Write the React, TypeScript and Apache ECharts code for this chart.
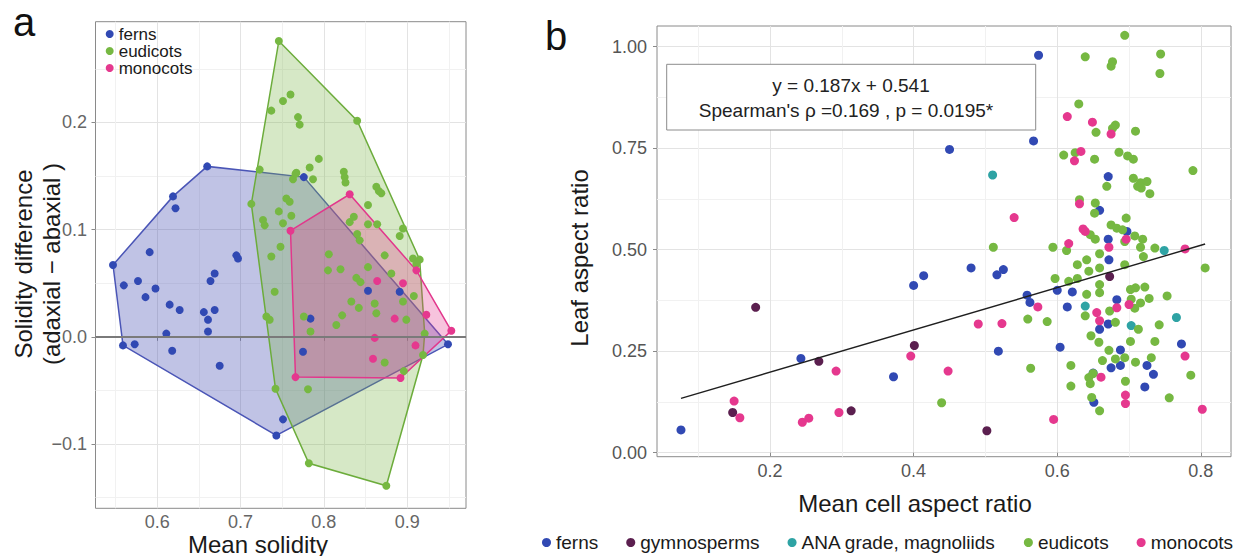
import React, { useEffect, useRef } from 'react';
import * as echarts from 'echarts';

const FONT = '"Liberation Sans", Arial, Helvetica, sans-serif';

// ---------------- Panel a: mean solidity vs solidity difference ----------------
const A_X_TICKS = [0.6, 0.7, 0.8, 0.9];
const A_Y_TICKS = [-0.1, 0.0, 0.1, 0.2];

const aFerns: number[][] = [
  [0.660, 0.159], [0.776, 0.149], [0.619, 0.131], [0.622, 0.120], [0.591, 0.079], [0.547, 0.067],
  [0.695, 0.076], [0.697, 0.073], [0.669, 0.059], [0.664, 0.052], [0.560, 0.048], [0.577, 0.052],
  [0.598, 0.045], [0.586, 0.037], [0.615, 0.030], [0.627, 0.025], [0.656, 0.023], [0.669, 0.025],
  [0.661, 0.016], [0.661, 0.005], [0.611, 0.003], [0.559, -0.008], [0.573, -0.007], [0.618, -0.013],
  [0.675, -0.027], [0.853, 0.043], [0.891, 0.042], [0.784, 0.017], [0.775, -0.014], [0.949, -0.007],
  [0.751, -0.077], [0.743, -0.092],
];

const aEudicots: number[][] = [
  [0.746, 0.276], [0.737, 0.211], [0.751, 0.220], [0.760, 0.226], [0.769, 0.205], [0.771, 0.198],
  [0.840, 0.2016], [0.794, 0.166], [0.783, 0.158], [0.767, 0.153], [0.763, 0.147], [0.766, 0.152],
  [0.787, 0.147], [0.723, 0.156], [0.824, 0.154], [0.825, 0.149], [0.826, 0.144], [0.863, 0.140],
  [0.866, 0.136], [0.869, 0.134], [0.713, 0.124], [0.755, 0.129], [0.759, 0.126], [0.746, 0.117],
  [0.761, 0.113], [0.751, 0.106], [0.727, 0.109], [0.729, 0.104], [0.853, 0.123], [0.836, 0.112],
  [0.831, 0.107], [0.853, 0.105], [0.864, 0.105], [0.840, 0.096], [0.843, 0.090], [0.895, 0.101],
  [0.891, 0.094], [0.748, 0.084], [0.737, 0.075], [0.806, 0.077], [0.805, 0.062], [0.820, 0.063],
  [0.873, 0.076], [0.907, 0.073], [0.915, 0.072], [0.911, 0.068], [0.853, 0.065], [0.881, 0.059],
  [0.839, 0.055], [0.844, 0.051], [0.741, 0.042], [0.908, 0.038], [0.895, 0.033], [0.833, 0.033],
  [0.842, 0.027], [0.861, 0.031], [0.863, 0.022], [0.731, 0.019], [0.735, 0.016], [0.776, 0.019],
  [0.822, 0.020], [0.815, 0.011], [0.899, 0.016], [0.784, 0.005], [0.921, 0.003], [0.919, -0.017],
  [0.873, -0.024], [0.896, -0.032], [0.742, -0.0485], [0.781, -0.049], [0.782, -0.118], [0.875, -0.139],
];

const aMonocots: number[][] = [
  [0.831, 0.133], [0.760, 0.099], [0.864, 0.052], [0.895, 0.050], [0.885, 0.017], [0.923, 0.0205],
  [0.953, 0.0056], [0.861, -0.001], [0.910, -0.008], [0.859, -0.0205], [0.766, -0.0376],
  [0.892, -0.0385], [0.911, 0.062],
];

// ---------------- Panel b: mean cell aspect ratio vs leaf aspect ratio ----------------
const B_X_TICKS = [0.2, 0.4, 0.6, 0.8];
const B_Y_TICKS = [0.0, 0.25, 0.5, 0.75, 1.0];

const bFerns: number[][] = [
  [0.076, 0.056], [0.243, 0.232], [0.372, 0.187], [0.400, 0.412], [0.414, 0.436], [0.450, 0.747],
  [0.480, 0.455], [0.516, 0.438], [0.525, 0.451], [0.518, 0.250], [0.558, 0.388], [0.562, 0.370],
  [0.567, 0.768], [0.574, 0.979], [0.600, 0.400], [0.604, 0.260], [0.621, 0.396], [0.614, 0.359],
  [0.659, 0.597], [0.671, 0.680], [0.671, 0.526], [0.697, 0.545], [0.672, 0.475], [0.683, 0.377],
  [0.659, 0.304], [0.671, 0.317], [0.688, 0.253], [0.675, 0.209], [0.688, 0.215], [0.725, 0.215],
  [0.734, 0.193], [0.722, 0.162], [0.773, 0.268], [0.650, 0.196], [0.651, 0.124],
];

const bGymnosperms: number[][] = [
  [0.148, 0.099], [0.180, 0.358], [0.268, 0.225], [0.313, 0.103], [0.401, 0.264], [0.502, 0.054],
  [0.673, 0.434],
];

const bAna: number[][] = [
  [0.510, 0.684], [0.639, 0.361], [0.703, 0.313], [0.749, 0.498], [0.766, 0.333],
];

const bEudicots: number[][] = [
  [0.694, 1.028], [0.639, 0.975], [0.677, 0.963], [0.675, 0.952], [0.744, 0.982], [0.743, 0.934],
  [0.630, 0.859], [0.654, 0.789], [0.681, 0.807], [0.677, 0.799], [0.709, 0.792], [0.609, 0.733],
  [0.625, 0.739], [0.652, 0.723], [0.686, 0.740], [0.698, 0.731], [0.706, 0.723], [0.789, 0.695],
  [0.706, 0.676], [0.716, 0.665], [0.725, 0.668], [0.717, 0.652], [0.729, 0.638], [0.712, 0.656],
  [0.669, 0.656], [0.631, 0.623], [0.653, 0.615], [0.652, 0.590], [0.696, 0.578], [0.675, 0.561],
  [0.683, 0.553], [0.691, 0.549], [0.646, 0.537], [0.653, 0.526], [0.708, 0.534], [0.719, 0.526],
  [0.694, 0.520], [0.594, 0.506], [0.511, 0.506], [0.716, 0.506], [0.736, 0.504], [0.613, 0.498],
  [0.659, 0.490], [0.720, 0.483], [0.641, 0.475], [0.628, 0.463], [0.806, 0.455], [0.694, 0.463],
  [0.659, 0.455], [0.644, 0.447], [0.597, 0.429], [0.616, 0.422], [0.628, 0.429], [0.659, 0.414],
  [0.659, 0.394], [0.641, 0.390], [0.639, 0.337], [0.673, 0.349], [0.702, 0.402], [0.709, 0.406],
  [0.722, 0.408], [0.703, 0.378], [0.716, 0.369], [0.728, 0.380], [0.708, 0.356], [0.753, 0.386],
  [0.559, 0.329], [0.586, 0.323], [0.681, 0.321], [0.713, 0.304], [0.742, 0.315], [0.647, 0.288],
  [0.658, 0.272], [0.702, 0.274], [0.736, 0.274], [0.672, 0.252], [0.663, 0.227], [0.681, 0.231],
  [0.694, 0.234], [0.709, 0.223], [0.731, 0.234], [0.619, 0.215], [0.563, 0.208], [0.650, 0.195],
  [0.644, 0.185], [0.646, 0.170], [0.695, 0.176], [0.619, 0.164], [0.786, 0.191], [0.648, 0.136],
  [0.659, 0.103], [0.756, 0.135], [0.439, 0.123],
];

const bMonocots: number[][] = [
  [0.150, 0.127], [0.158, 0.086], [0.245, 0.075], [0.254, 0.085], [0.292, 0.201], [0.296, 0.099],
  [0.396, 0.238], [0.448, 0.201], [0.490, 0.317], [0.523, 0.318], [0.540, 0.579], [0.573, 0.359],
  [0.595, 0.082], [0.614, 0.828], [0.649, 0.814], [0.675, 0.785], [0.633, 0.742], [0.624, 0.719],
  [0.631, 0.613], [0.636, 0.551], [0.639, 0.545], [0.696, 0.526], [0.616, 0.515], [0.672, 0.506],
  [0.778, 0.502], [0.655, 0.345], [0.683, 0.357], [0.700, 0.365], [0.659, 0.325], [0.778, 0.238],
  [0.661, 0.186], [0.695, 0.142], [0.695, 0.121], [0.802, 0.107],
];

// fitted line as drawn in the figure (slope / intercept)
const FIT_SLOPE = 0.521;
const FIT_INTERCEPT = 0.094;
const FIT_TEXT_1 = 'y = 0.187x + 0.541';
const FIT_TEXT_2 = "Spearman's ρ =0.169 , p = 0.0195*";

const LEGEND_A = ['ferns', 'eudicots', 'monocots'];
const LEGEND_B = ['ferns', 'gymnosperms', 'ANA grade, magnoliids', 'eudicots', 'monocots'];

const COLORS: Record<string, string> = {
  ferns: '#3149b3',
  gymnosperms: '#5b1f4f',
  'ANA grade, magnoliids': '#2ea3a4',
  eudicots: '#76b842',
  monocots: '#e5388e',
};
const HULL_STROKE: Record<string, string> = {
  ferns: '#4a55b6',
  eudicots: '#6cac3b',
  monocots: '#e2378c',
};
const HULL_FILL: Record<string, string> = {
  ferns: 'rgba(70, 80, 178, 0.34)',
  eudicots: 'rgba(118, 178, 66, 0.30)',
  monocots: 'rgba(229, 56, 142, 0.30)',
};

function convexHull(points: number[][]): number[][] {
  const p = points.slice().sort((a, b) => a[0] - b[0] || a[1] - b[1]);
  const cross = (o: number[], a: number[], b: number[]) =>
    (a[0] - o[0]) * (b[1] - o[1]) - (a[1] - o[1]) * (b[0] - o[0]);
  const lower: number[][] = [];
  for (const pt of p) {
    while (lower.length >= 2 && cross(lower[lower.length - 2], lower[lower.length - 1], pt) <= 0) lower.pop();
    lower.push(pt);
  }
  const upper: number[][] = [];
  for (let i = p.length - 1; i >= 0; i--) {
    const pt = p[i];
    while (upper.length >= 2 && cross(upper[upper.length - 2], upper[upper.length - 1], pt) <= 0) upper.pop();
    upper.push(pt);
  }
  upper.pop();
  lower.pop();
  return lower.concat(upper);
}

const isMultiple = (v: number, step: number) => Math.abs(v / step - Math.round(v / step)) < 1e-6;
const fmt = (v: number, d: number) => (Math.abs(v) < 1e-9 ? 0 : v).toFixed(d).replace('-', '\u2212');

function makeAxis(
  gridIndex: number, min: number, max: number, step: number, ticks: number[], decimals: number,
  labelMargin: number, labelColor: string,
) {
  return {
    type: 'value',
    gridIndex,
    min,
    max,
    minInterval: step,
    maxInterval: step,
    axisLine: { show: false },
    axisTick: { show: true, length: 4, inside: false, lineStyle: { color: '#8a8a8a', width: 1 }, customValues: ticks },
    axisLabel: {
      show: true,
      customValues: ticks,
      margin: labelMargin,
      color: labelColor,
      fontSize: 18,
      fontFamily: FONT,
      showMinLabel: true,
      showMaxLabel: true,
      formatter: (v: number) => (isMultiple(v, step) ? fmt(v, decimals) : ''),
    },
    splitLine: { show: true, lineStyle: { color: '#e3e3e3', width: 1 } },
    minorTick: { show: false, splitNumber: 2 },
    minorSplitLine: { show: true, lineStyle: { color: '#f1f1f1', width: 1 } },
  };
}

function hullSeries(name: string, pts: number[][]) {
  const hull = convexHull(pts);
  return {
    type: 'custom',
    name: name + ' hull',
    coordinateSystem: 'cartesian2d',
    xAxisIndex: 0,
    yAxisIndex: 0,
    silent: true,
    z: 1,
    data: [pts[0]],
    encode: { x: 0, y: 1 },
    renderItem: (_params: any, api: any) => ({
      type: 'polygon',
      shape: { points: hull.map((p) => api.coord(p)) },
      style: { fill: HULL_FILL[name], stroke: HULL_STROKE[name], lineWidth: 1.5 },
    }),
  };
}

function scatter(name: string, data: number[][], axis: number, size: number, extra: any = {}) {
  return {
    type: 'scatter',
    name,
    xAxisIndex: axis,
    yAxisIndex: axis,
    data,
    symbol: 'circle',
    symbolSize: size,
    itemStyle: { color: COLORS[name], opacity: 1 },
    z: 3,
    silent: true,
    ...extra,
  };
}

export default function App() {
  const ref = useRef<HTMLDivElement>(null);

  useEffect(() => {
    if (!ref.current) return;
    const chart = echarts.init(ref.current, null, { renderer: 'svg' });

    const allB = [...bFerns, ...bGymnosperms, ...bAna, ...bEudicots, ...bMonocots];
    const xs = allB.map((p) => p[0]);
    const fx0 = Math.min(...xs);
    const fx1 = Math.max(...xs);
    const fitData = [
      [fx0, FIT_SLOPE * fx0 + FIT_INTERCEPT],
      [fx1, FIT_SLOPE * fx1 + FIT_INTERCEPT],
    ];

    const legendTextA = { fontSize: 17, lineHeight: 17, color: '#1a1a1a', fontFamily: FONT };
    const legendTextB = { fontSize: 19, color: '#1a1a1a', fontFamily: FONT };
    const legendA = LEGEND_A.map((n, i) => ({
      data: [n],
      orient: 'vertical',
      left: 105.7,
      top: 25.5 + i * 17,
      padding: 0,
      icon: 'circle',
      itemWidth: 8,
      itemHeight: 8,
      selectedMode: false,
      textStyle: legendTextA,
    }));

    const option: any = {
      animation: false,
      backgroundColor: '#ffffff',
      textStyle: { fontFamily: FONT },
      grid: [
        { left: 95.5, top: 21.7, width: 370.5, height: 486.6, show: true, borderColor: '#8a8a8a', borderWidth: 1, backgroundColor: '#ffffff', containLabel: false, outerBoundsMode: 'none' },
        { left: 657, top: 26, width: 574, height: 430.7, show: true, borderColor: '#8a8a8a', borderWidth: 1, backgroundColor: '#ffffff', containLabel: false, outerBoundsMode: 'none' },
      ],
      xAxis: [
        makeAxis(0, 0.526, 0.9706, 0.1, A_X_TICKS, 1, 5, '#666666'),
        makeAxis(1, 0.0426, 0.842, 0.2, B_X_TICKS, 1, 5, '#555555'),
      ],
      yAxis: [
        makeAxis(0, -0.16, 0.294, 0.1, A_Y_TICKS, 1, 8.5, '#666666'),
        makeAxis(1, -0.0099, 1.051, 0.25, B_Y_TICKS, 2, 10, '#555555'),
      ],
      legend: [
        ...legendA,
        {
          data: LEGEND_B,
          orient: 'horizontal',
          left: 542,
          top: 533,
          padding: 0,
          itemGap: 28,
          icon: 'circle',
          itemWidth: 9,
          itemHeight: 9,
          selectedMode: false,
          textStyle: legendTextB,
        },
      ],
      series: [
        hullSeries('ferns', aFerns),
        hullSeries('eudicots', aEudicots),
        hullSeries('monocots', aMonocots),
        scatter('ferns', aFerns, 0, 8, {
          markLine: {
            silent: true,
            symbol: 'none',
            label: { show: false },
            lineStyle: { color: '#7a7a7a', width: 1.8, type: 'solid' },
            data: [{ yAxis: 0 }],
          },
        }),
        scatter('eudicots', aEudicots, 0, 8),
        scatter('monocots', aMonocots, 0, 8),
        scatter('ferns', bFerns, 1, 9),
        scatter('gymnosperms', bGymnosperms, 1, 9),
        scatter('ANA grade, magnoliids', bAna, 1, 9),
        scatter('eudicots', bEudicots, 1, 9),
        scatter('monocots', bMonocots, 1, 9),
        {
          type: 'line',
          name: 'fit',
          xAxisIndex: 1,
          yAxisIndex: 1,
          data: fitData,
          showSymbol: false,
          symbol: 'none',
          silent: true,
          z: 4,
          lineStyle: { color: '#1f1f1f', width: 1.4 },
        },
      ],
      graphic: [
        { type: 'text', x: 24, y: 21.5, z: 10, style: { text: 'a', fontSize: 40, fontFamily: FONT, fill: '#111111', align: 'center', verticalAlign: 'middle' } },
        { type: 'text', x: 556, y: 36, z: 10, style: { text: 'b', fontSize: 40, fontFamily: FONT, fill: '#111111', align: 'center', verticalAlign: 'middle' } },
        {
          type: 'text', x: 37, y: 264, rotation: Math.PI / 2, z: 10,
          style: { text: 'Solidity difference\n(adaxial \u2212 abaxial )', fontSize: 24, lineHeight: 28, fontFamily: FONT, fill: '#1a1a1a', align: 'center', verticalAlign: 'middle' },
        },
        { type: 'text', x: 258, y: 544, z: 10, style: { text: 'Mean solidity', fontSize: 24, fontFamily: FONT, fill: '#1a1a1a', align: 'center', verticalAlign: 'middle' } },
        {
          type: 'text', x: 579, y: 258, rotation: Math.PI / 2, z: 10,
          style: { text: 'Leaf aspect ratio', fontSize: 24, fontFamily: FONT, fill: '#1a1a1a', align: 'center', verticalAlign: 'middle' },
        },
        { type: 'text', x: 915, y: 503, z: 10, style: { text: 'Mean cell aspect ratio', fontSize: 24, fontFamily: FONT, fill: '#1a1a1a', align: 'center', verticalAlign: 'middle' } },
        { type: 'rect', z: 10, shape: { x: 666.7, y: 64.3, width: 369, height: 65.7 }, style: { fill: '#ffffff', stroke: '#8c8c8c', lineWidth: 1 } },
        { type: 'text', x: 851, y: 85, z: 11, style: { text: FIT_TEXT_1, fontSize: 19, fontFamily: FONT, fill: '#222222', align: 'center', verticalAlign: 'middle' } },
        { type: 'text', x: 846, y: 110, z: 11, style: { text: FIT_TEXT_2, fontSize: 19, fontFamily: FONT, fill: '#222222', align: 'center', verticalAlign: 'middle' } },
      ],
    };

    chart.setOption(option);
    return () => {
      chart.dispose();
    };
  }, []);

  return (
    <div
      ref={ref}
      style={{ position: 'absolute', left: 0, top: 0, width: 1241, height: 556, background: '#ffffff' }}
    />
  );
}
